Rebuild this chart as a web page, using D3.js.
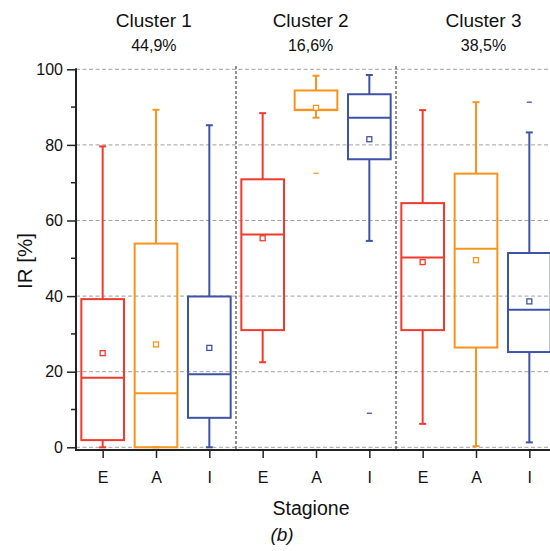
<!DOCTYPE html>
<html>
<head>
<meta charset="utf-8">
<script src="https://cdn.jsdelivr.net/npm/d3@7"></script>
<style>
  body { margin: 0; background: #fff; }
  svg { font-family: "Liberation Sans", Arial, sans-serif; }
</style>
</head>
<body>
<div id="chart"></div>
<script>
// data (order: C1 E,A,I / C2 E,A,I / C3 E,A,I)
const clusters = ["Cluster 1", "Cluster 2", "Cluster 3"];
const shares = ["44,9%", "16,6%", "38,5%"];
const seasons = ["E", "A", "I"];
const whiskerLow = [0, 0, 0, 22.5, 87.2, 54.6, 6.2, 0.3, 1.3];
const q1 = [1.9, 0, 7.8, 31.0, 89.2, 76.2, 31.0, 26.4, 25.2];
const median = [18.4, 14.3, 19.3, 56.3, 89.3, 87.2, 50.2, 52.5, 36.4];
const q3 = [39.2, 53.9, 39.9, 70.9, 94.4, 93.4, 64.6, 72.4, 51.4];
const whiskerHigh = [79.6, 89.3, 85.2, 88.4, 98.3, 98.5, 89.2, 91.3, 83.3];
const means = [24.9, 27.2, 26.3, 55.3, 89.8, 81.5, 49.0, 49.5, 38.6];
const outliers = [[], [], [], [], [72.5], [9.0], [], [], [91.3]];
const yTicks = [0, 20, 40, 60, 80, 100];
const yMinor = [10, 30, 50, 70, 90];

const colors = ["#f03b2c", "#f7941d", "#3f53a4"];

const width = 550, height = 551;
const svg = d3.select("#chart").append("svg")
    .attr("width", width)
    .attr("height", height);

const x = d3.scaleLinear().domain([-0.5, 8.5]).range([76, 556]);
const y = d3.scaleLinear().domain([0, 100]).range([447.3, 69.3]);
const step = x(1) - x(0);
const boxW = step * 0.8;
const capW = 7;
const axisY = 450;

const data = q1.map((d, i) => ({
    i: i,
    lo: whiskerLow[i], q1: q1[i], med: median[i], q3: q3[i], hi: whiskerHigh[i],
    mean: means[i], out: outliers[i], color: colors[i % 3]
}));

// gridlines
svg.append("g").selectAll("line")
    .data(yTicks)
    .join("line")
    .attr("x1", x(-0.5)).attr("x2", width)
    .attr("y1", d => y(d)).attr("y2", d => y(d))
    .attr("stroke", "#a0a0a0")
    .attr("stroke-width", 1)
    .attr("stroke-dasharray", "4,2.5");

// cluster separators
svg.append("g").selectAll("line")
    .data([2.5, 5.5])
    .join("line")
    .attr("x1", d => x(d)).attr("x2", d => x(d))
    .attr("y1", 66).attr("y2", axisY)
    .attr("stroke", "#222")
    .attr("stroke-width", 1)
    .attr("stroke-dasharray", "3,2");

// boxes
const box = svg.append("g").selectAll("g")
    .data(data)
    .join("g")
    .attr("stroke", d => d.color)
    .attr("fill", "none")
    .attr("stroke-width", 2);

box.append("line")
    .attr("x1", d => x(d.i)).attr("x2", d => x(d.i))
    .attr("y1", d => y(d.q3)).attr("y2", d => y(d.hi));
box.append("line")
    .attr("x1", d => x(d.i)).attr("x2", d => x(d.i))
    .attr("y1", d => y(d.q1)).attr("y2", d => y(d.lo));
box.append("line")
    .attr("x1", d => x(d.i) - capW / 2).attr("x2", d => x(d.i) + capW / 2)
    .attr("y1", d => y(d.hi)).attr("y2", d => y(d.hi));
box.append("line")
    .attr("x1", d => x(d.i) - capW / 2).attr("x2", d => x(d.i) + capW / 2)
    .attr("y1", d => y(d.lo)).attr("y2", d => y(d.lo));
box.append("rect")
    .attr("x", d => x(d.i) - boxW / 2)
    .attr("width", boxW)
    .attr("y", d => y(d.q3))
    .attr("height", d => y(d.q1) - y(d.q3));
box.append("line")
    .attr("x1", d => x(d.i) - boxW / 2).attr("x2", d => x(d.i) + boxW / 2)
    .attr("y1", d => y(d.med)).attr("y2", d => y(d.med));
box.append("rect")
    .attr("x", d => x(d.i) - 2.5)
    .attr("y", d => y(d.mean) - 2.5)
    .attr("width", 5).attr("height", 5)
    .attr("stroke-width", 1.3)
    .attr("fill", "#fff");
box.selectAll(".out")
    .data(d => d.out.map(v => ({ i: d.i, v: v })))
    .join("line")
    .attr("class", "out")
    .attr("x1", d => x(d.i) - 2.5).attr("x2", d => x(d.i) + 2.5)
    .attr("y1", d => y(d.v)).attr("y2", d => y(d.v))
    .attr("stroke-width", 1.3);

// y axis
const yAxis = svg.append("g")
    .attr("transform", "translate(76,0)")
    .call(d3.axisLeft(y).tickValues(yTicks).tickSize(9).tickPadding(4));
yAxis.select(".domain").remove();
yAxis.selectAll(".tick line").attr("stroke", "#222").attr("stroke-width", 1.5);
yAxis.selectAll("text").attr("font-size", 16).attr("fill", "#111")
    .attr("font-family", "Liberation Sans, Arial, sans-serif");
svg.append("g").selectAll("line")
    .data(yMinor)
    .join("line")
    .attr("x1", 71).attr("x2", 76)
    .attr("y1", d => y(d)).attr("y2", d => y(d))
    .attr("stroke", "#222").attr("stroke-width", 1.5);

// x axis
const xAxis = svg.append("g")
    .attr("transform", `translate(0,${axisY})`)
    .call(d3.axisBottom(x).tickValues(d3.range(9)).tickFormat(i => seasons[i % 3])
        .tickSize(8).tickPadding(14));
xAxis.select(".domain").remove();
xAxis.selectAll(".tick line").attr("stroke", "#222").attr("stroke-width", 1.5);
xAxis.selectAll("text").attr("font-size", 16).attr("fill", "#111")
    .attr("font-family", "Liberation Sans, Arial, sans-serif");

// axis lines
svg.append("line")
    .attr("x1", 76).attr("x2", 76).attr("y1", y(100) - 1).attr("y2", axisY + 1)
    .attr("stroke", "#222").attr("stroke-width", 2);
svg.append("line")
    .attr("x1", 75).attr("x2", width).attr("y1", axisY).attr("y2", axisY)
    .attr("stroke", "#222").attr("stroke-width", 2);

// cluster headers
const headerPos = [0.96, 3.9, 7.14];
svg.append("g").selectAll("text")
    .data(clusters)
    .join("text")
    .attr("x", (d, i) => x(headerPos[i]))
    .attr("y", 27)
    .attr("text-anchor", "middle")
    .attr("font-size", 19)
    .attr("fill", "#111")
    .text(d => d);
svg.append("g").selectAll("text")
    .data(shares)
    .join("text")
    .attr("x", (d, i) => x(headerPos[i]))
    .attr("y", 51)
    .attr("text-anchor", "middle")
    .attr("font-size", 16)
    .attr("fill", "#111")
    .text(d => d);

// titles
svg.append("text")
    .attr("transform", "translate(32,261) rotate(-90)")
    .attr("text-anchor", "middle")
    .attr("font-size", 20.5)
    .attr("fill", "#111")
    .text("IR [%]");
svg.append("text")
    .attr("x", 311).attr("y", 515)
    .attr("text-anchor", "middle")
    .attr("font-size", 19.5)
    .attr("fill", "#111")
    .text("Stagione");
svg.append("text")
    .attr("x", 282).attr("y", 541)
    .attr("text-anchor", "middle")
    .attr("font-size", 19)
    .attr("font-style", "italic")
    .attr("fill", "#111")
    .text("(b)");
</script>
</body>
</html>
